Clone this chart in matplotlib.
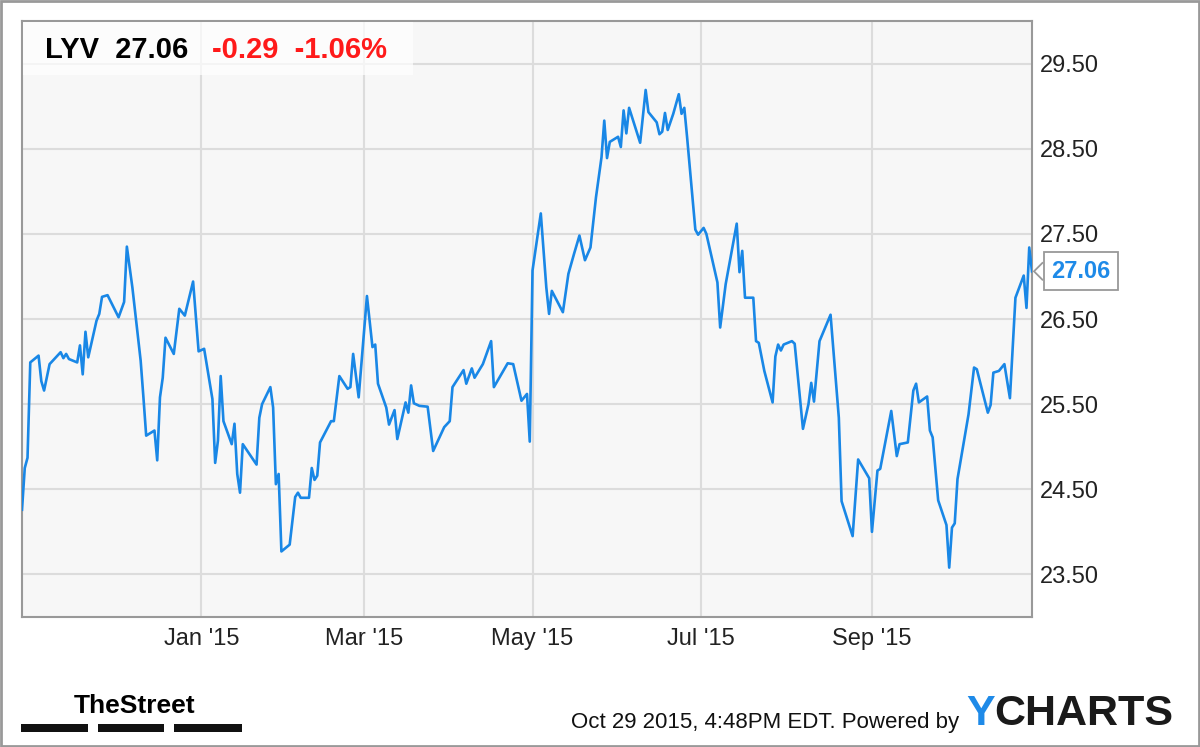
import matplotlib
matplotlib.use('Agg')
import matplotlib.pyplot as plt
from matplotlib.patches import Rectangle, Polygon
import pandas as pd

# LYV daily close, vertices
dates = [
    '2014-10-28', '2014-10-29', '2014-10-30', '2014-10-31', '2014-11-03', '2014-11-04',
    '2014-11-05', '2014-11-07', '2014-11-11', '2014-11-12', '2014-11-13', '2014-11-14',
    '2014-11-17', '2014-11-18', '2014-11-19', '2014-11-20', '2014-11-21', '2014-11-24',
    '2014-11-25', '2014-11-26', '2014-11-28', '2014-12-02', '2014-12-04', '2014-12-05',
    '2014-12-07', '2014-12-10', '2014-12-11', '2014-12-12', '2014-12-15', '2014-12-16',
    '2014-12-17', '2014-12-18', '2014-12-19', '2014-12-22', '2014-12-24', '2014-12-26',
    '2014-12-29', '2014-12-31', '2015-01-02', '2015-01-05', '2015-01-06', '2015-01-07',
    '2015-01-08', '2015-01-09', '2015-01-12', '2015-01-13', '2015-01-14', '2015-01-15',
    '2015-01-16', '2015-01-21', '2015-01-22', '2015-01-23', '2015-01-26', '2015-01-27',
    '2015-01-28', '2015-01-29', '2015-01-30', '2015-02-02', '2015-02-04', '2015-02-05',
    '2015-02-06', '2015-02-09', '2015-02-10', '2015-02-11', '2015-02-12', '2015-02-13',
    '2015-02-17', '2015-02-18', '2015-02-20', '2015-02-23', '2015-02-24', '2015-02-25',
    '2015-02-27', '2015-03-02', '2015-03-04', '2015-03-05', '2015-03-06', '2015-03-09',
    '2015-03-10', '2015-03-12', '2015-03-13', '2015-03-16', '2015-03-17', '2015-03-18',
    '2015-03-19', '2015-03-21', '2015-03-24', '2015-03-26', '2015-03-30', '2015-04-01',
    '2015-04-02', '2015-04-06', '2015-04-07', '2015-04-09', '2015-04-10', '2015-04-13',
    '2015-04-16', '2015-04-17', '2015-04-22', '2015-04-24', '2015-04-27', '2015-04-29',
    '2015-04-30', '2015-05-01', '2015-05-04', '2015-05-06', '2015-05-07', '2015-05-08',
    '2015-05-12', '2015-05-14', '2015-05-16', '2015-05-18', '2015-05-20', '2015-05-22',
    '2015-05-24', '2015-05-26', '2015-05-27', '2015-05-28', '2015-05-29', '2015-06-01',
    '2015-06-02', '2015-06-03', '2015-06-04', '2015-06-05', '2015-06-09', '2015-06-11',
    '2015-06-12', '2015-06-15', '2015-06-16', '2015-06-17', '2015-06-18', '2015-06-19',
    '2015-06-21', '2015-06-23', '2015-06-24', '2015-06-25', '2015-06-26', '2015-06-29',
    '2015-06-30', '2015-07-02', '2015-07-03', '2015-07-07', '2015-07-08', '2015-07-10',
    '2015-07-14', '2015-07-15', '2015-07-16', '2015-07-17', '2015-07-20', '2015-07-21',
    '2015-07-22', '2015-07-24', '2015-07-27', '2015-07-28', '2015-07-29', '2015-07-30',
    '2015-07-31', '2015-08-03', '2015-08-04', '2015-08-07', '2015-08-09', '2015-08-10',
    '2015-08-11', '2015-08-13', '2015-08-17', '2015-08-20', '2015-08-21', '2015-08-25',
    '2015-08-27', '2015-08-31', '2015-09-01', '2015-09-03', '2015-09-04', '2015-09-08',
    '2015-09-10', '2015-09-11', '2015-09-14', '2015-09-16', '2015-09-17', '2015-09-18',
    '2015-09-21', '2015-09-22', '2015-09-23', '2015-09-25', '2015-09-28', '2015-09-29',
    '2015-09-30', '2015-10-01', '2015-10-02', '2015-10-06', '2015-10-08', '2015-10-09',
    '2015-10-13', '2015-10-14', '2015-10-15', '2015-10-17', '2015-10-19', '2015-10-21',
    '2015-10-23', '2015-10-26', '2015-10-27', '2015-10-28', '2015-10-29',
]
prices = [
    24.26, 24.75, 24.87, 25.99, 26.07, 25.77,
    25.66, 25.97, 26.11, 26.04, 26.09, 26.03,
    25.99, 26.19, 25.85, 26.35, 26.05, 26.48,
    26.56, 26.76, 26.78, 26.52, 26.70, 27.35,
    26.87, 26.01, 25.58, 25.13, 25.19, 24.84,
    25.58, 25.81, 26.28, 26.09, 26.62, 26.54,
    26.94, 26.12, 26.15, 25.56, 24.81, 25.07,
    25.83, 25.30, 25.03, 25.27, 24.68, 24.46,
    25.03, 24.79, 25.34, 25.50, 25.70, 25.46,
    24.56, 24.68, 23.77, 23.85, 24.41, 24.46,
    24.40, 24.40, 24.75, 24.61, 24.66, 25.05,
    25.30, 25.30, 25.83, 25.68, 25.70, 26.09,
    25.58, 26.77, 26.17, 26.20, 25.74, 25.46,
    25.26, 25.43, 25.09, 25.52, 25.40, 25.72,
    25.51, 25.48, 25.47, 24.95, 25.23, 25.30,
    25.70, 25.90, 25.74, 25.92, 25.81, 25.97,
    26.24, 25.70, 25.98, 25.97, 25.54, 25.62,
    25.06, 27.07, 27.74, 26.87, 26.56, 26.83,
    26.58, 27.03, 27.26, 27.48, 27.19, 27.34,
    27.93, 28.40, 28.83, 28.39, 28.58, 28.64,
    28.52, 28.95, 28.68, 28.98, 28.57, 29.19,
    28.93, 28.81, 28.67, 28.70, 28.92, 28.72,
    28.91, 29.14, 28.91, 28.98, 28.64, 27.55,
    27.49, 27.57, 27.50, 26.93, 26.40, 26.91,
    27.62, 27.05, 27.30, 26.75, 26.75, 26.24,
    26.22, 25.89, 25.52, 26.06, 26.20, 26.13,
    26.20, 26.24, 26.21, 25.21, 25.50, 25.75,
    25.53, 26.24, 26.55, 25.34, 24.36, 23.95,
    24.85, 24.63, 24.00, 24.72, 24.74, 25.42,
    24.89, 25.03, 25.05, 25.66, 25.74, 25.52,
    25.59, 25.19, 25.11, 24.37, 24.08, 23.58,
    24.05, 24.10, 24.62, 25.38, 25.93, 25.91,
    25.40, 25.49, 25.87, 25.89, 25.97, 25.57,
    26.75, 27.01, 26.63, 27.34, 27.06,
]

tick_dates = ['2015-01-01', '2015-03-01', '2015-05-01', '2015-07-01', '2015-09-01']
tick_labels = ["Jan '15", "Mar '15", "May '15", "Jul '15", "Sep '15"]
y_ticks = [23.5, 24.5, 25.5, 26.5, 27.5, 28.5, 29.5]

ticker = 'LYV'
last_price = 27.06
change = -0.29
change_pct = -1.06
timestamp = 'Oct 29 2015, 4:48PM EDT. Powered by'

LINE_BLUE = '#1987e6'
W, H = 1200, 747

plt.rcParams['font.family'] = ['Liberation Sans', 'DejaVu Sans']


def fx(px):
    return px / W


def fy(py):
    # pixel row from top -> figure fraction
    return 1 - py / H


def main():
    fig = plt.figure(figsize=(W / 100, H / 100), dpi=100)
    fig.patch.set_facecolor('white')

    ax = fig.add_axes([fx(22), fy(617), fx(1032 - 22), (617 - 21) / H])
    ax.set_facecolor('#f7f7f7')

    x = pd.to_datetime(dates)
    ax.plot(x, prices, color=LINE_BLUE, lw=1.9, zorder=3)

    ax.set_xlim(x[0], x[-1])
    ax.set_ylim(23.0, 30.0)

    ax.set_xticks(pd.to_datetime(tick_dates))
    ax.set_xticklabels(tick_labels)
    ax.set_yticks(y_ticks)
    ax.set_yticklabels(['%.2f' % v for v in y_ticks])
    ax.yaxis.tick_right()
    ax.tick_params(axis='both', length=0, labelsize=17, colors='#222222')
    ax.tick_params(axis='y', pad=6)
    ax.tick_params(axis='x', pad=8)

    ax.grid(True, color='#dcdcdc', lw=1.5)
    ax.set_axisbelow(True)
    for s in ax.spines.values():
        s.set_color('#999999')
        s.set_linewidth(1.5)

    # header box with quote
    fig.patches.append(Rectangle((fx(23), fy(75)), fx(390), 53 / H,
                                 transform=fig.transFigure, facecolor='white',
                                 alpha=0.7, edgecolor='none', zorder=2))
    fig.text(fx(45), fy(50), '%s  %.2f' % (ticker, last_price), fontsize=21,
             fontweight='bold', color='black', va='center', ha='left', zorder=5)
    fig.text(fx(212), fy(50), '%.2f  %.2f%%' % (change, change_pct), fontsize=21,
             fontweight='bold', color='#ff1a1a', va='center', ha='left', zorder=5)

    # last price tag on the right axis
    fig.canvas.draw()
    _, py = ax.transData.transform((0, last_price))
    tag_y = py / fig.dpi / (H / 100)
    fig.text(fx(1081), tag_y, '%.2f' % last_price, fontsize=17, fontweight='bold',
             color='#1e8ae8', ha='center', va='center', zorder=6,
             bbox=dict(boxstyle='square,pad=0.32', facecolor='white',
                       edgecolor='#999999', lw=1.3))
    hh = 9 / H
    fig.patches.append(Polygon([(fx(1043), tag_y + hh), (fx(1034), tag_y),
                                (fx(1043), tag_y - hh)], closed=False,
                               transform=fig.transFigure, facecolor='white',
                               edgecolor='#999999', lw=1.3, zorder=7))

    # footer
    fig.text(fx(74), fy(713), 'TheStreet', fontsize=19, fontweight='bold',
             color='black', ha='left', va='baseline')
    for x0, x1 in [(21, 88), (98, 164), (174, 242)]:
        fig.patches.append(Rectangle((fx(x0), fy(732)), fx(x1 - x0), 8 / H,
                                     transform=fig.transFigure, facecolor='#111111',
                                     edgecolor='none'))
    fig.text(fx(959), fy(728), timestamp, fontsize=16, color='#111111',
             ha='right', va='baseline')
    t = fig.text(fx(966), fy(725), 'Y', fontsize=31, fontweight='bold',
                 color='#1e8ae8', ha='left', va='baseline')
    fig.canvas.draw()
    bb = t.get_window_extent()
    fig.text(bb.x1 / W, fy(725), 'CHARTS', fontsize=31, fontweight='bold',
             color='#1a1a1a', ha='left', va='baseline')

    # outer frame
    fig.patches.append(Rectangle((0.001, 0.002), 0.998, 0.997,
                                 transform=fig.transFigure, fill=False,
                                 edgecolor='#999999', lw=2))

    fig.savefig('out.png', dpi=100, facecolor='white')


if __name__ == '__main__':
    main()
